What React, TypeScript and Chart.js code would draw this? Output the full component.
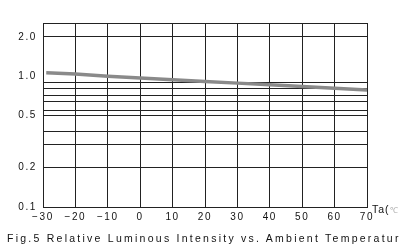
import React, { useEffect, useRef } from "react";
import { Chart, registerables } from "chart.js";

Chart.register(...registerables);

const temperatures = [-29, -20, -10, 0, 10, 20, 30, 40, 50, 60, 70];
const relativeIntensity = [1.06, 1.04, 1.0, 0.97, 0.94, 0.91, 0.885, 0.86, 0.833, 0.808, 0.785];
const yGridValues = [0.1, 0.2, 0.3, 0.38, 0.5, 0.55, 0.64, 0.71, 0.8, 0.9, 2.0, 2.55];
const yLabelValues = [0.1, 0.2, 0.5, 1.0, 2.0];
const yLabelTexts = ["0.1", "0.2", "0.5", "1.0", "2.0"];
const xMin = -30;
const xMax = 70;
const xStep = 10;
const title = "Fig.5 Relative Luminous Intensity vs. Ambient Temperatur";
const xUnit = "Ta(";

const FONT = "'Liberation Sans', Arial, sans-serif";

export default function App() {
  const canvasRef = useRef<HTMLCanvasElement | null>(null);

  useEffect(() => {
    const canvas = canvasRef.current;
    if (!canvas) return;
    const spacingPlugin = {
      id: "spacing",
      beforeDraw(chart: any) {
        chart.ctx.letterSpacing = "1.6px";
      },
    };
    const tickValues = [...yGridValues, ...yLabelValues]
      .filter((v, i, a) => a.indexOf(v) === i)
      .sort((a, b) => a - b);
    const chart = new Chart(canvas, {
      type: "line",
      data: {
        datasets: [
          {
            data: temperatures.map((t, i) => ({ x: t, y: relativeIntensity[i] })),
            borderColor: "#8a8a8a",
            borderWidth: 3.5,
            pointRadius: 0,
            tension: 0,
            fill: false,
          },
        ],
      },
      options: {
        responsive: false,
        animation: false,
        devicePixelRatio: 1,
        layout: { padding: { top: 23, right: 37, left: 0, bottom: 0 } },
        plugins: { legend: { display: false }, tooltip: { enabled: false }, title: { display: false } },
        scales: {
          x: {
            type: "linear",
            min: xMin,
            max: xMax,
            afterFit(scale: any) {
              scale.height = 42;
            },
            afterBuildTicks(scale: any) {
              const t = [];
              for (let v = xMin; v <= xMax; v += xStep) t.push({ value: v });
              scale.ticks = t;
            },
            grid: { color: "#222", lineWidth: 1, drawTicks: false },
            border: { display: true, color: "#222", width: 1 },
            ticks: {
              color: "#111",
              padding: 4,
              maxRotation: 0,
              autoSkip: false,
              font: { family: FONT, size: 10 },
              callback: (v: any) => (Number(v) < 0 ? "\u2212" + Math.abs(Number(v)) : String(v)),
            },
          },
          y: {
            type: "logarithmic",
            min: 0.1,
            max: 2.55,
            afterFit(scale: any) {
              scale.width = 43;
            },
            afterBuildTicks(scale: any) {
              scale.ticks = tickValues.map((v) => ({ value: v }));
            },
            grid: {
              color: (ctx: any) => {
                const v = ctx.tick ? ctx.tick.value : 0;
                return yGridValues.some((g) => Math.abs(g - v) < 1e-6) ? "#222" : "rgba(0,0,0,0)";
              },
              lineWidth: 1,
              drawTicks: false,
            },
            border: { display: true, color: "#222", width: 1 },
            ticks: {
              color: "#111",
              padding: 6,
              autoSkip: false,
              font: { family: FONT, size: 10 },
              callback: (v: any) => {
                const i = yLabelValues.findIndex((l) => Math.abs(l - Number(v)) < 1e-6);
                return i >= 0 ? yLabelTexts[i] : "";
              },
            },
          },
        },
      },
      plugins: [spacingPlugin],
    });
    return () => chart.destroy();
  }, []);

  return (
    <div style={{ position: "fixed", left: 0, top: 0, width: 404, height: 249, background: "#fff", overflow: "hidden" }}>
      <canvas ref={canvasRef} width={404} height={249} style={{ width: 404, height: 249, display: "block" }} />
      <div
        style={{
          position: "absolute",
          left: 372,
          top: 203,
          fontFamily: FONT,
          fontSize: 10.5,
          lineHeight: "12px",
          letterSpacing: "1px",
          color: "#111",
          whiteSpace: "nowrap",
        }}
      >
        {xUnit}
        <span style={{ color: "#aaa", fontSize: 8 }}>℃</span>
      </div>
      <div
        style={{
          position: "absolute",
          left: 7,
          top: 232,
          fontFamily: FONT,
          fontSize: 10.5,
          lineHeight: "12px",
          letterSpacing: "2.25px",
          color: "#111",
          whiteSpace: "nowrap",
        }}
      >
        {title}
      </div>
    </div>
  );
}
